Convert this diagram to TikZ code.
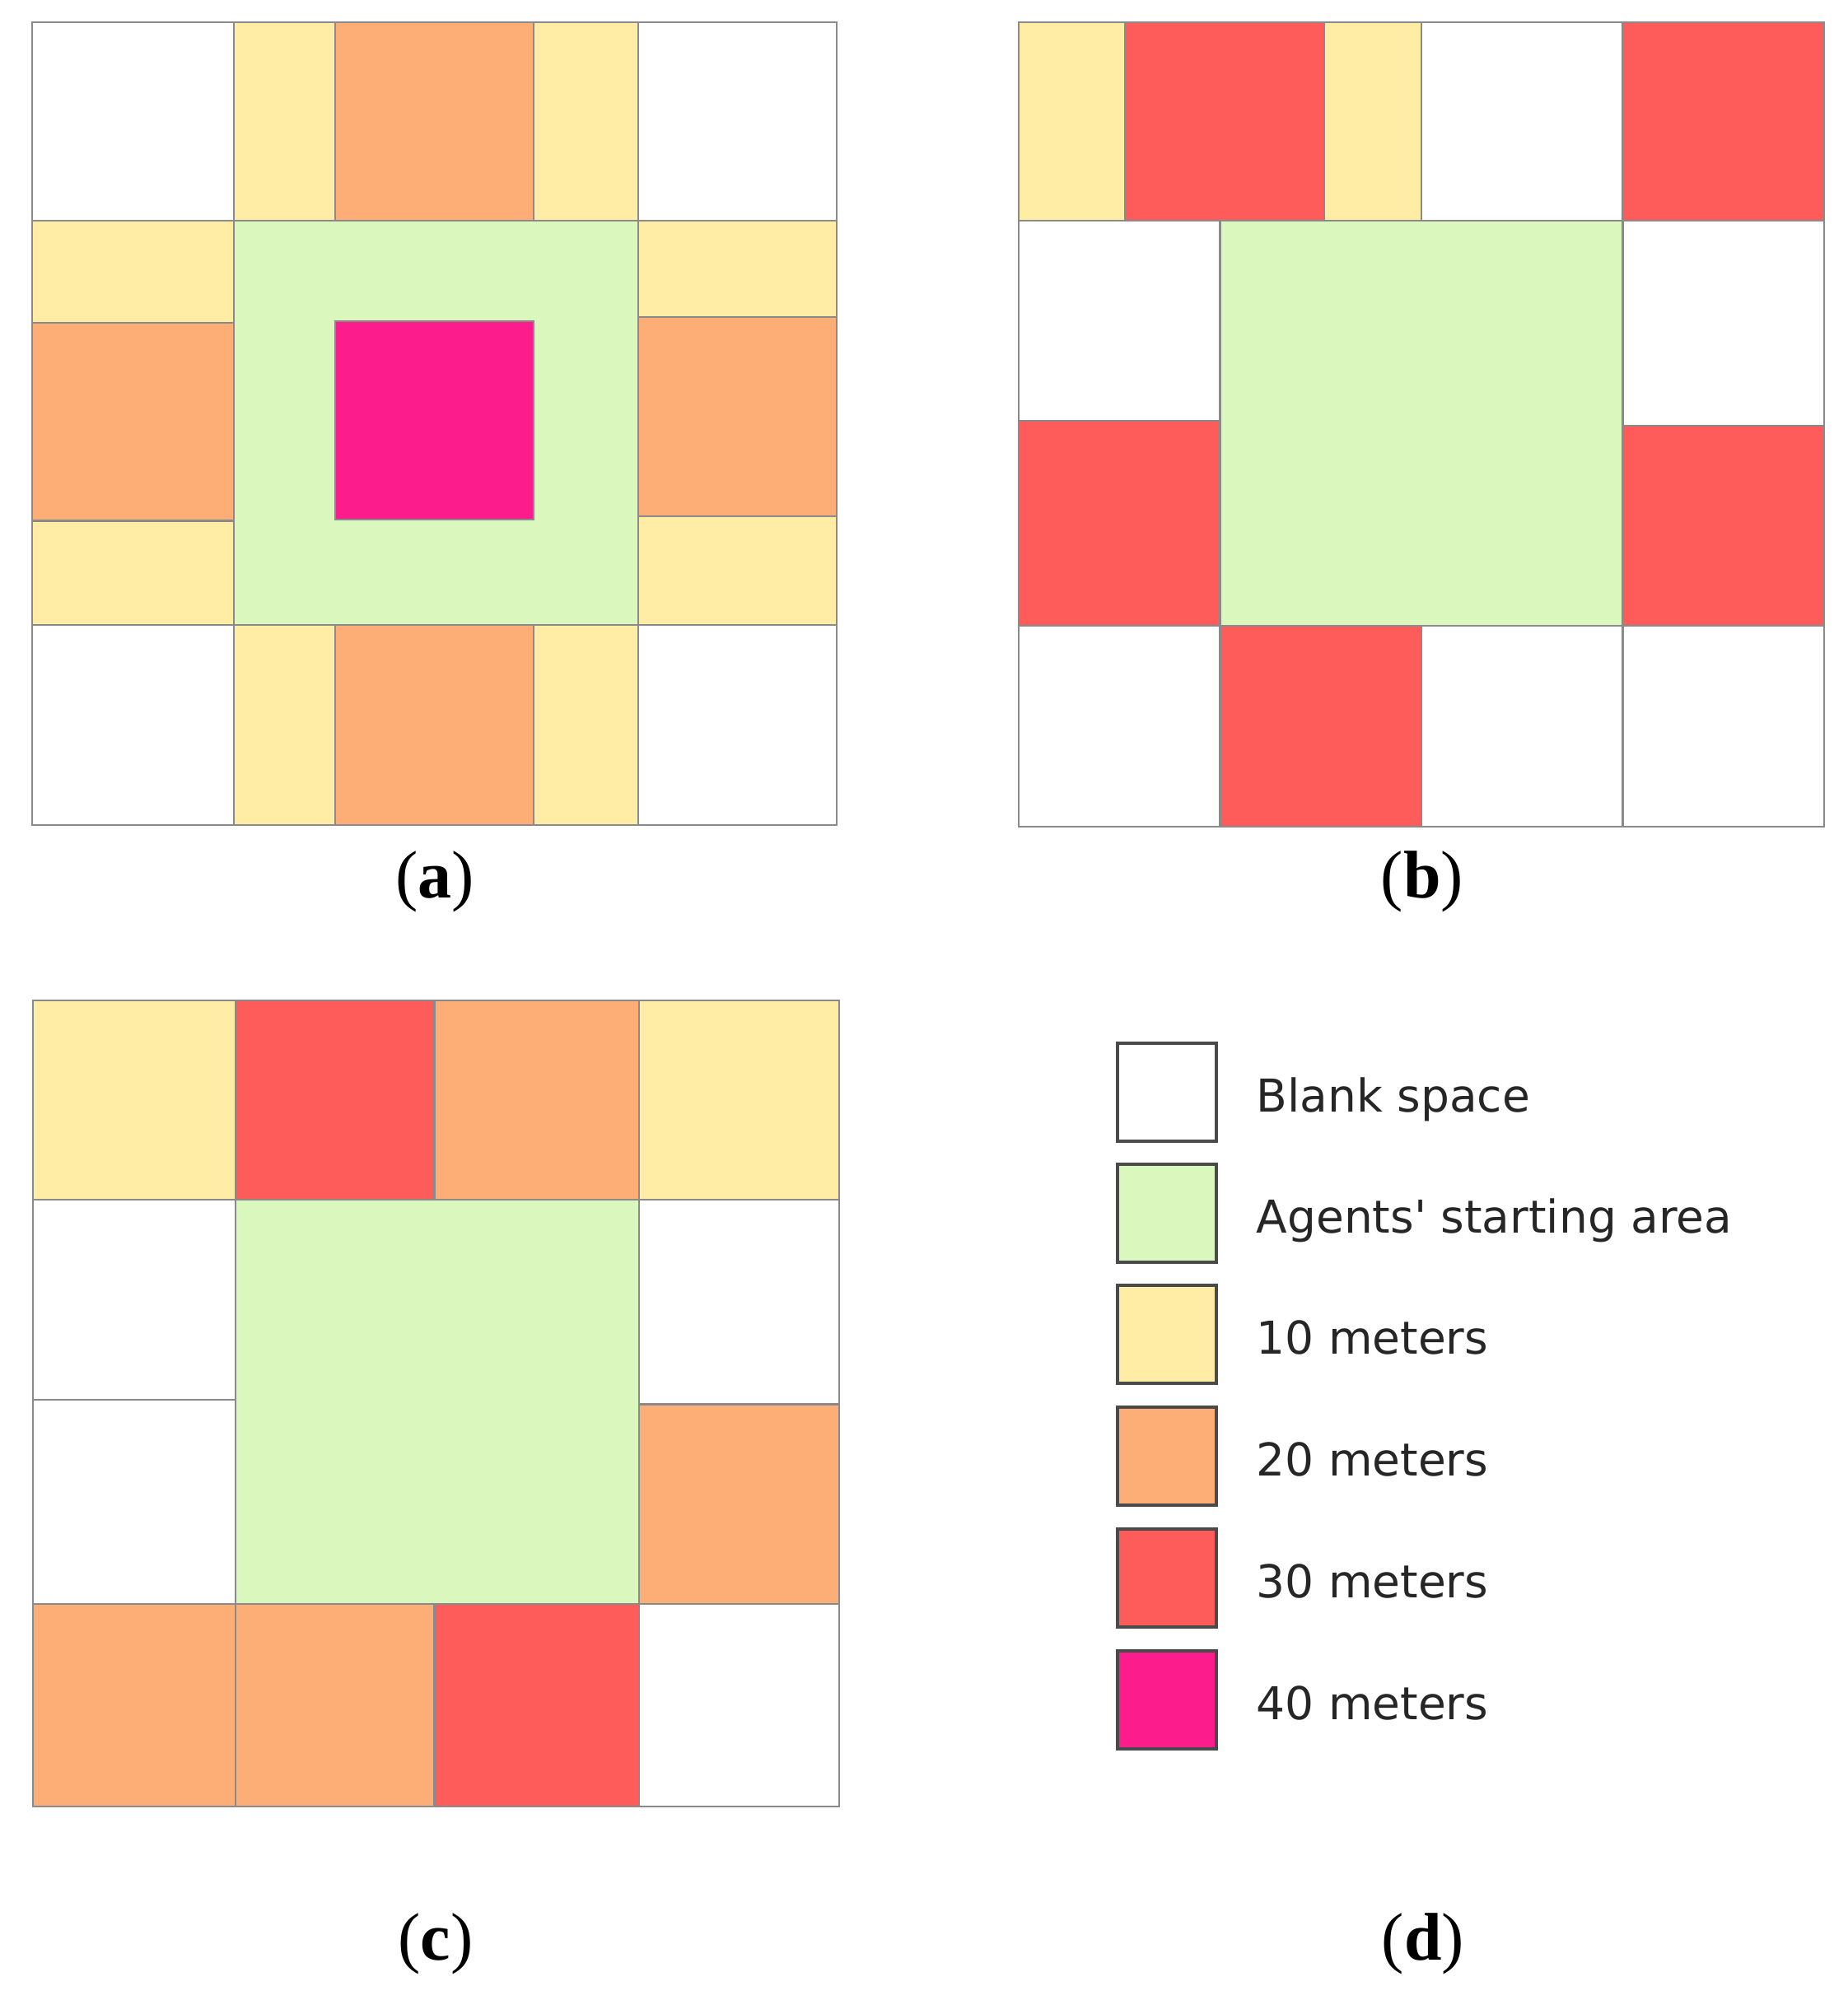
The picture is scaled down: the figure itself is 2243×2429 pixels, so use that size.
\documentclass[tikz,border=0pt]{standalone}
\usepackage{fontspec}
\setmainfont{Liberation Serif}
\newfontfamily\legfont{DejaVu Sans}
\definecolor{cwhite}{HTML}{FFFFFF}
\definecolor{cgreen}{HTML}{DAF8BE}
\definecolor{cyellow}{HTML}{FFEDA6}
\definecolor{corange}{HTML}{FDAE76}
\definecolor{cred}{HTML}{FD5C5A}
\definecolor{cmagenta}{HTML}{FD1C8C}
\definecolor{edgegray}{HTML}{8A8A8A}
\definecolor{legedge}{HTML}{4A4A4A}
\newcommand\pcell[5]{\filldraw[cellb, fill=#1] (#2,#3) rectangle (#4,#5);}
\begin{document}
\begin{tikzpicture}[x=0.1mm, y=-0.1mm,
  cellb/.style={draw=edgegray, line width=0.6pt},
  legbox/.style={draw=legedge, line width=1.1pt, minimum width=12mm, minimum height=11.9mm, inner sep=0pt, outer sep=0pt},
  legtext/.style={anchor=base west, inner sep=0pt, font=\legfont\fontsize{15.65pt}{18pt}\selectfont, text=black!85},
  lab/.style={anchor=base, inner sep=0pt, font=\fontsize{23.3pt}{28pt}\selectfont}]
\useasboundingbox (0,0) rectangle (2243,2429);

% ---------- panel (a)
\begin{scope}[shift={(39,27)}, x=97.7mm, y=-97.5mm]
\pcell{cwhite}{0}{0}{0.2505}{0.2468}
\pcell{cyellow}{0.2505}{0}{0.3768}{0.2468}
\pcell{corange}{0.3768}{0}{0.6237}{0.2468}
\pcell{cyellow}{0.6237}{0}{0.7529}{0.2468}
\pcell{cwhite}{0.7529}{0}{1}{0.2468}
\pcell{cyellow}{0}{0.2468}{0.2505}{0.374}
\pcell{corange}{0}{0.374}{0.2505}{0.621}
\pcell{cyellow}{0}{0.621}{0.2505}{0.7504}
\pcell{cyellow}{0.7529}{0.2468}{1}{0.3675}
\pcell{corange}{0.7529}{0.3675}{1}{0.615}
\pcell{cyellow}{0.7529}{0.615}{1}{0.7504}
\pcell{cgreen}{0.2505}{0.2468}{0.7529}{0.7504}
\pcell{cmagenta}{0.3768}{0.372}{0.6237}{0.6195}
\pcell{cwhite}{0}{0.7504}{0.2505}{1}
\pcell{cyellow}{0.2505}{0.7504}{0.3768}{1}
\pcell{corange}{0.3768}{0.7504}{0.6237}{1}
\pcell{cyellow}{0.6237}{0.7504}{0.7529}{1}
\pcell{cwhite}{0.7529}{0.7504}{1}{1}
\end{scope}

% ---------- panel (b)
\begin{scope}[shift={(1237,27)}, x=97.8mm, y=-97.7mm]
\pcell{cyellow}{0}{0}{0.132}{0.2464}
\pcell{cred}{0.132}{0}{0.379}{0.2464}
\pcell{cyellow}{0.379}{0}{0.5}{0.2464}
\pcell{cwhite}{0.5}{0}{0.75}{0.2464}
\pcell{cred}{0.75}{0}{1}{0.2464}
\pcell{cwhite}{0}{0.2464}{0.25}{0.4957}
\pcell{cred}{0}{0.4957}{0.25}{0.7507}
\pcell{cgreen}{0.25}{0.2464}{0.75}{0.7507}
\pcell{cwhite}{0.75}{0.2464}{1}{0.5014}
\pcell{cred}{0.75}{0.5014}{1}{0.7507}
\pcell{cwhite}{0}{0.7507}{0.25}{1}
\pcell{cred}{0.25}{0.7507}{0.5}{1}
\pcell{cwhite}{0.5}{0.7507}{0.75}{1}
\pcell{cwhite}{0.75}{0.7507}{1}{1}
\end{scope}

% ---------- panel (c)
\begin{scope}[shift={(40,1215)}, x=97.9mm, y=-97.9mm]
\pcell{cyellow}{0}{0}{0.251}{0.2468}
\pcell{cred}{0.251}{0}{0.498}{0.2468}
\pcell{corange}{0.498}{0}{0.752}{0.2468}
\pcell{cyellow}{0.752}{0}{1}{0.2468}
\pcell{cwhite}{0}{0.2468}{0.251}{0.4956}
\pcell{cwhite}{0}{0.4956}{0.251}{0.749}
\pcell{cgreen}{0.251}{0.2468}{0.752}{0.749}
\pcell{cwhite}{0.752}{0.2468}{1}{0.501}
\pcell{corange}{0.752}{0.501}{1}{0.749}
\pcell{corange}{0}{0.749}{0.251}{1}
\pcell{corange}{0.251}{0.749}{0.498}{1}
\pcell{cred}{0.498}{0.749}{0.752}{1}
\pcell{cwhite}{0.752}{0.749}{1}{1}
\end{scope}

% ---------- legend (d)
\node[legbox, fill=cwhite]   (lb1) at (1417,1326.5) {};
\node[legbox, fill=cgreen]   (lb2) at (1417,1473.5) {};
\node[legbox, fill=cyellow]  (lb3) at (1417,1620.5) {};
\node[legbox, fill=corange]  (lb4) at (1417,1768.5) {};
\node[legbox, fill=cred]     (lb5) at (1417,1916.5) {};
\node[legbox, fill=cmagenta] (lb6) at (1417,2064.5) {};
\node[legtext] (lt1) at (1525,1350.5) {Blank space};
\node[legtext] (lt2) at (1525,1497.5) {Agents' starting area};
\node[legtext] (lt3) at (1525,1644.5) {10 meters};
\node[legtext] (lt4) at (1525,1792.5) {20 meters};
\node[legtext] (lt5) at (1525,1940.5) {30 meters};
\node[legtext] (lt6) at (1525,2088.5) {40 meters};

% ---------- panel labels
\node[lab] (la) at (528,1090) {(\textbf{a})};
\node[lab] (lbl) at (1727,1090) {(\textbf{b})};
\node[lab] (lc) at (529,2380) {(\textbf{c})};
\node[lab] (ld) at (1728,2380) {(\textbf{d})};
\end{tikzpicture}
\end{document}
